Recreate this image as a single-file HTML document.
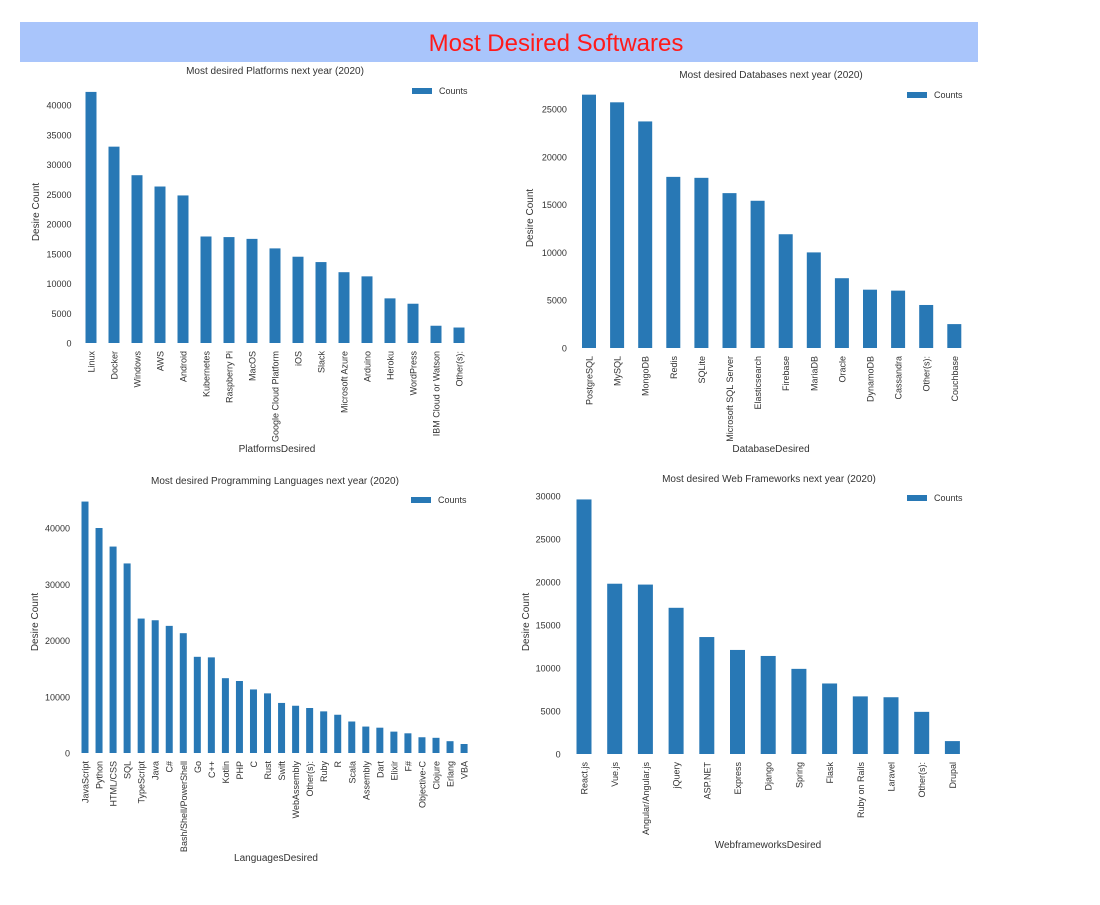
<!DOCTYPE html>
<html><head><meta charset="utf-8"><style>
body{margin:0;width:1100px;height:900px;background:#fff;font-family:"Liberation Sans",sans-serif;overflow:hidden}
</style></head><body>
<svg id="s" width="1100" height="900" xmlns="http://www.w3.org/2000/svg" font-family="Liberation Sans, sans-serif">
<rect x="20" y="22" width="958" height="40" fill="#a9c5fb"/>
<text x="556" y="51" text-anchor="middle" font-size="24" fill="#ff1a1a">Most Desired Softwares</text>
</svg>
<script>
const platCats=["Linux","Docker","Windows","AWS","Android","Kubernetes","Raspberry Pi","MacOS","Google Cloud Platform","iOS","Slack","Microsoft Azure","Arduino","Heroku","WordPress","IBM Cloud or Watson","Other(s):"];
const platVals=[42200,33000,28200,26300,24800,17900,17800,17500,15900,14500,13600,11900,11200,7500,6600,2900,2600];
const platTicks=[0,5000,10000,15000,20000,25000,30000,35000,40000];
const dbCats=["PostgreSQL","MySQL","MongoDB","Redis","SQLite","Microsoft SQL Server","Elasticsearch","Firebase","MariaDB","Oracle","DynamoDB","Cassandra","Other(s):","Couchbase"];
const dbVals=[26500,25700,23700,17900,17800,16200,15400,11900,10000,7300,6100,6000,4500,2500];
const dbTicks=[0,5000,10000,15000,20000,25000];
const langCats=["JavaScript","Python","HTML/CSS","SQL","TypeScript","Java","C#","Bash/Shell/PowerShell","Go","C++","Kotlin","PHP","C","Rust","Swift","WebAssembly","Other(s):","Ruby","R","Scala","Assembly","Dart","Elixir","F#","Objective-C","Clojure","Erlang","VBA"];
const langVals=[44700,40000,36700,33700,23900,23600,22600,21300,17100,17000,13300,12800,11300,10600,8900,8400,8000,7400,6800,5600,4700,4500,3800,3500,2800,2700,2100,1600];
const langTicks=[0,10000,20000,30000,40000];
const webCats=["React.js","Vue.js","Angular/Angular.js","jQuery","ASP.NET","Express","Django","Spring","Flask","Ruby on Rails","Laravel","Other(s):","Drupal"];
const webVals=[29600,19800,19700,17000,13600,12100,11400,9900,8200,6700,6600,4900,1500];
const webTicks=[0,5000,10000,15000,20000,25000,30000];

const svg=document.getElementById('s');
const NS="http://www.w3.org/2000/svg";
function mk(tag,a,parent){const e=document.createElementNS(NS,tag);for(const k in a)e.setAttribute(k,a[k]);(parent||svg).appendChild(e);return e;}
function chart(o,cats,vals,ticks){
  const g=mk('g',{});
  
  
  const y=v=>o.y0-v*o.pxPer;
  const x=i=>o.x0+i*o.step;
  const t=mk('text',{x:o.tx,y:o.ty,'text-anchor':'middle','font-size':10,fill:'#333'},g);t.textContent=o.title;
  
  
  ticks.forEach(v=>{const e=mk('text',{x:o.x0-o.step/2-8,y:y(v)+3.5,'text-anchor':'end','font-size':9,fill:'#333'},g);e.textContent=v;
    
    });
  cats.forEach((c,i)=>{
    const r=mk('rect',{x:x(i)-o.bw/2,y:y(vals[i]),width:o.bw,height:vals[i]*o.pxPer,fill:'#2878b5'},g);
    
    
    const l=mk('text',{x:0,y:0,'text-anchor':'end','font-size':9,fill:'#333',transform:`translate(${x(i)+3.5},${o.y0+8}) rotate(-90)`},g);l.textContent=c;
    
    
  });
  const xl=mk('text',{x:o.xlx,y:o.xly,'text-anchor':'middle','font-size':10,fill:'#333'},g);xl.textContent=o.xlabel;
  
  
  const yl=mk('text',{x:0,y:0,'text-anchor':'middle','font-size':10,fill:'#333',transform:`translate(${o.ylx},${o.yly}) rotate(-90)`},g);yl.textContent='Desire Count';
  
  
  const lg=mk('rect',{x:o.lx,y:o.ly-3,width:20,height:6,fill:'#2878b5'},g);
  
  
  const lt=mk('text',{x:o.lx+27,y:o.ly+3,'font-size':9,fill:'#333'},g);lt.textContent='Counts';
  
  
}
chart({name:'platforms-chart',title:'Most desired Platforms next year (2020)',tx:275,ty:74,x0:91,step:23,bw:11,y0:343,pxPer:238/40000,xlabel:'PlatformsDesired',xlx:277,xly:452,ylx:39,yly:212,lx:412,ly:91},platCats,platVals,platTicks);
chart({name:'databases-chart',title:'Most desired Databases next year (2020)',tx:771,ty:78,x0:589,step:28.1,bw:14,y0:348,pxPer:239/25000,xlabel:'DatabaseDesired',xlx:771,xly:452,ylx:533,yly:218,lx:907,ly:95},dbCats,dbVals,dbTicks);
chart({name:'languages-chart',title:'Most desired Programming Languages next year (2020)',tx:275,ty:484,x0:85,step:14.04,bw:7,y0:753,pxPer:56.25/10000,xlabel:'LanguagesDesired',xlx:276,xly:861,ylx:38,yly:622,lx:411,ly:500},langCats,langVals,langTicks);
chart({name:'webframeworks-chart',title:'Most desired Web Frameworks next year (2020)',tx:769,ty:482,x0:584,step:30.7,bw:15,y0:754,pxPer:258/30000,xlabel:'WebframeworksDesired',xlx:768,xly:848,ylx:529,yly:622,lx:907,ly:498},webCats,webVals,webTicks);
</script>
</body></html>
